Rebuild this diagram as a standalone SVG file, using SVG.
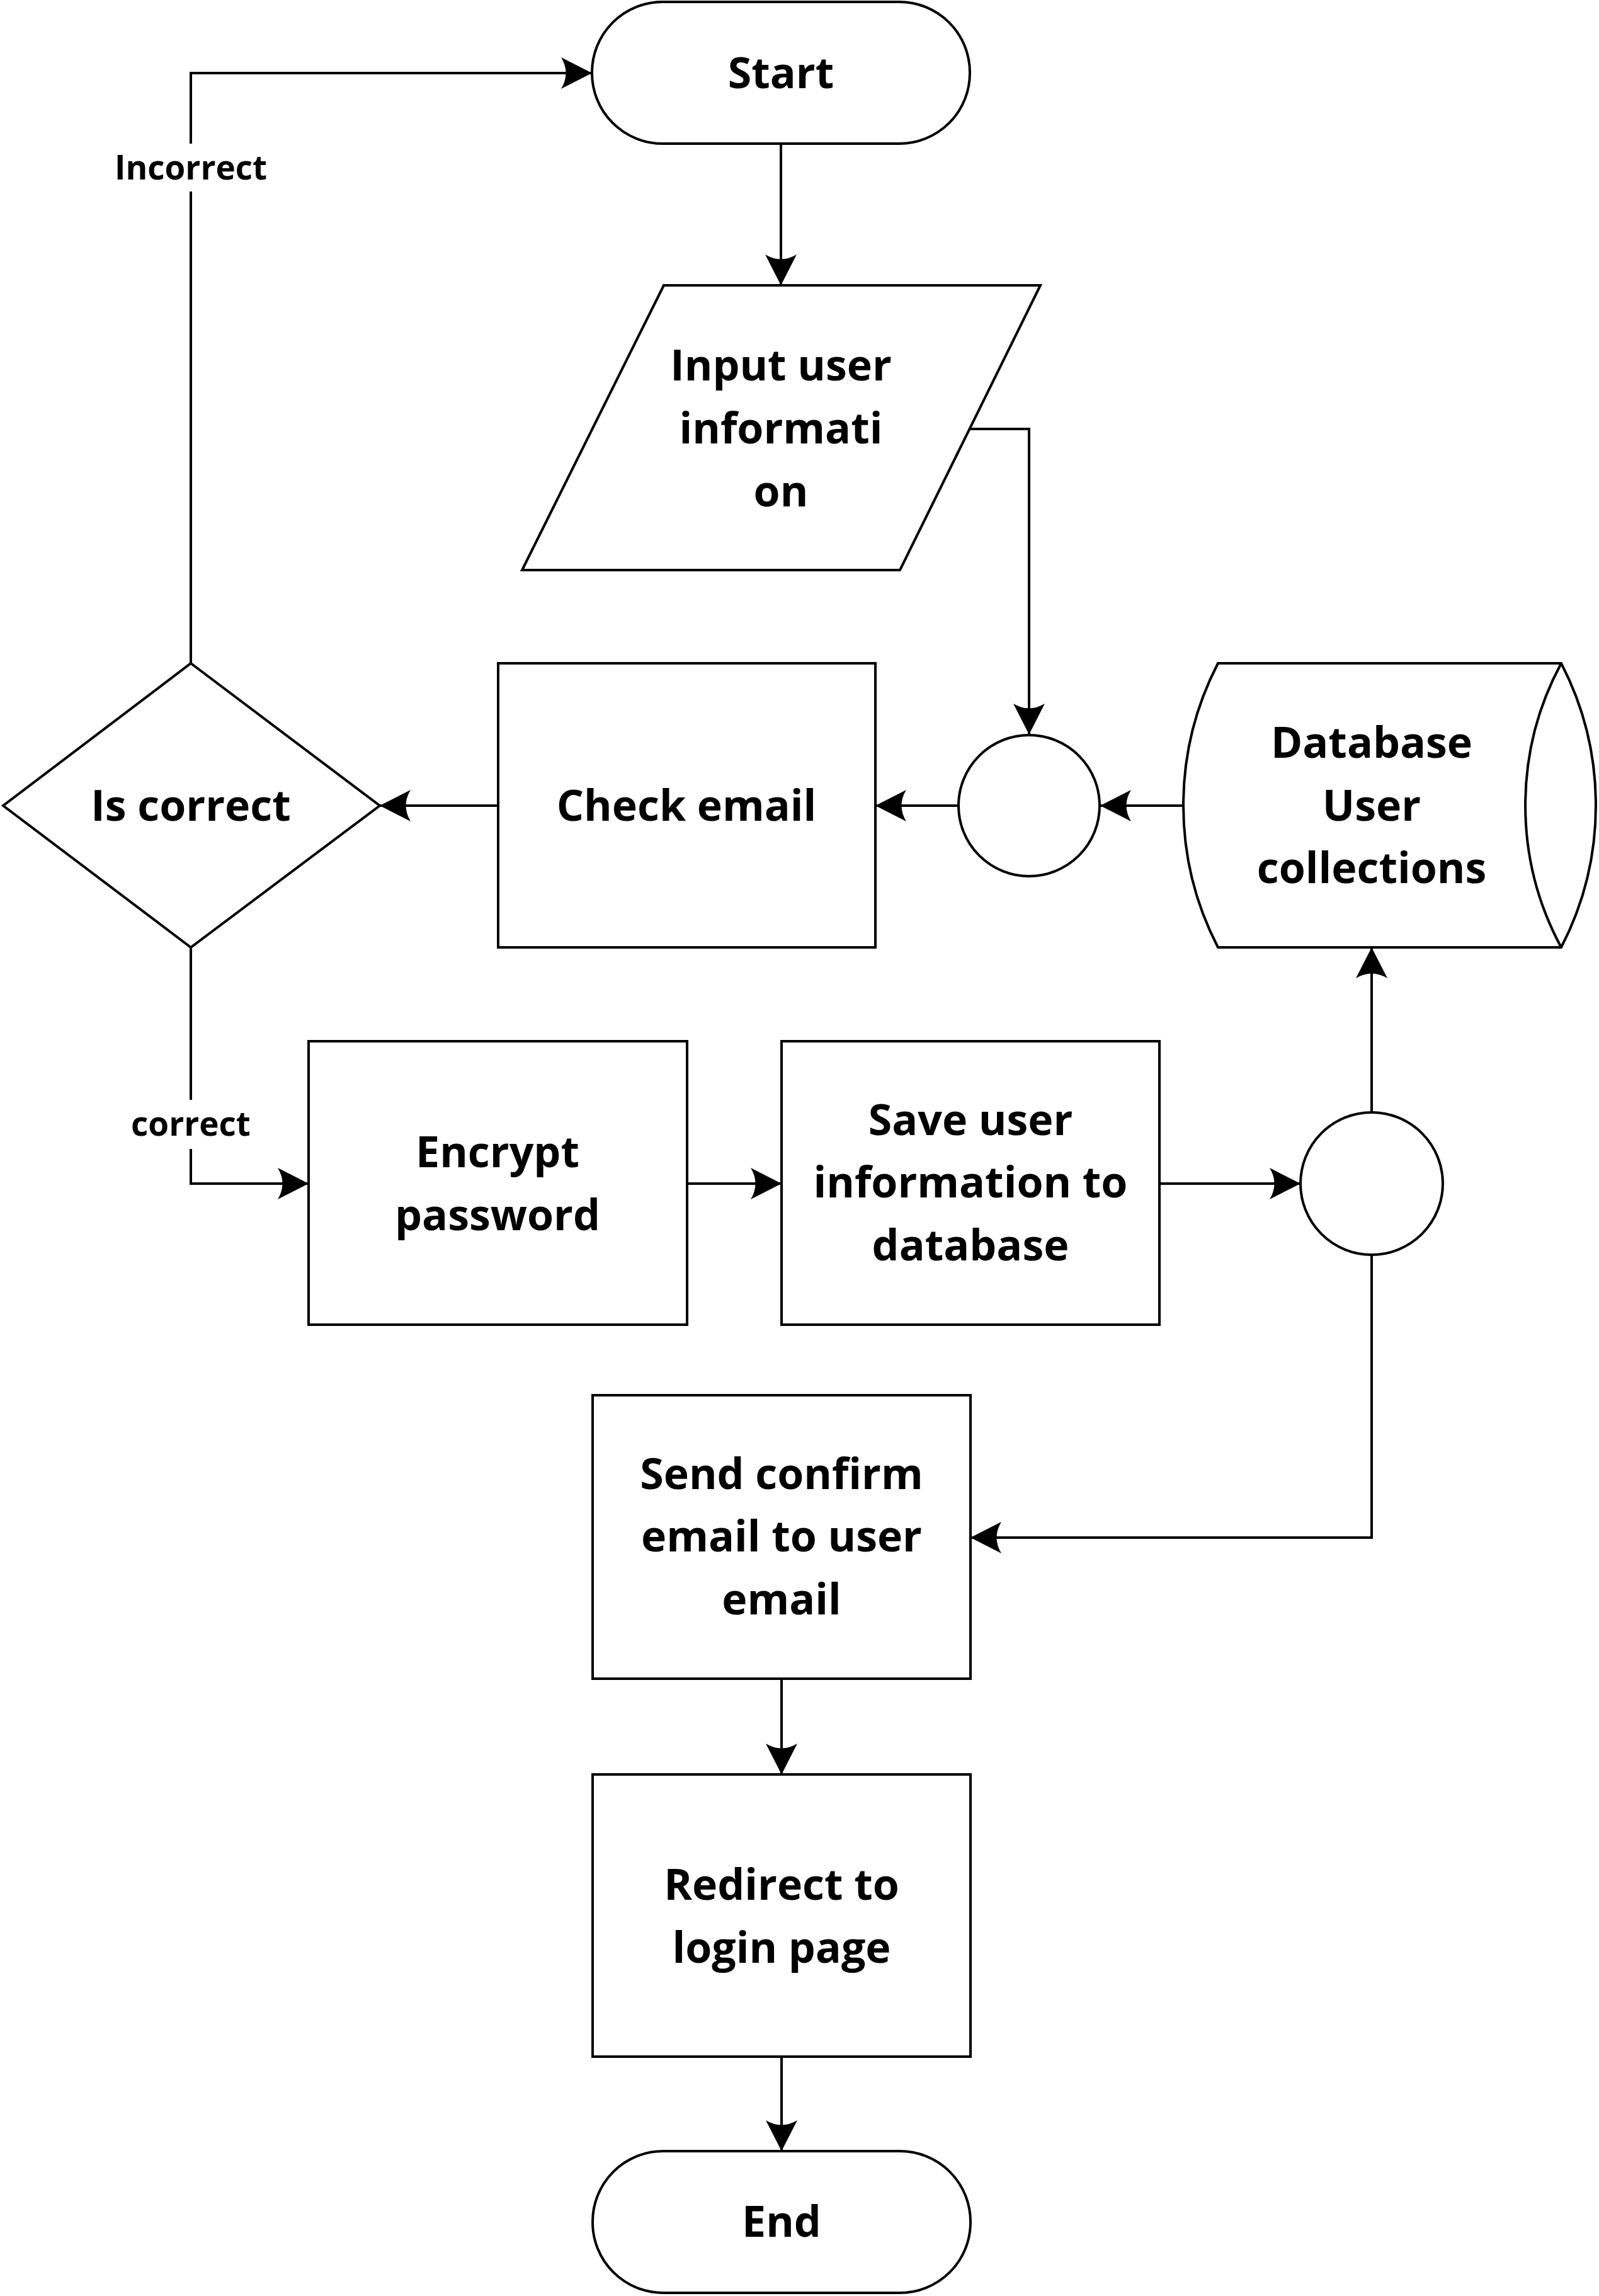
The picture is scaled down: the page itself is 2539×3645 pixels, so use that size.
<svg xmlns="http://www.w3.org/2000/svg" width="2539" height="3645" viewBox="0 0 2539 3645">
<style>
.shape{fill:#fff;stroke:#000;stroke-width:4;stroke-linejoin:miter}
.line{fill:none;stroke:#000;stroke-width:4}
.t{font-family:"Open Sans","Noto Sans","Liberation Sans",sans-serif;font-weight:700;font-size:68px;text-anchor:middle;fill:#000}
.lbl{font-family:"Open Sans","Noto Sans","Liberation Sans",sans-serif;font-weight:700;font-size:53px;text-anchor:middle;fill:#000}
</style>
<defs>
<marker id="arr" markerUnits="userSpaceOnUse" viewBox="-50 -27 52 54" markerWidth="52" markerHeight="54" refX="0" refY="0" orient="auto">
<path d="M0,0 L-49,-25 Q-34,0 -49,25 Z" fill="#000"/>
</marker>
</defs>
<rect width="2539" height="3645" fill="#fff"/>
<g id="connectors">
<path class="line" d="M1240,228 L1240,453" marker-end="url(#arr)"/>
<path class="line" d="M1540,681 L1634,681 L1634,1166" marker-end="url(#arr)"/>
<path class="line" d="M1879,1279 L1747,1279" marker-end="url(#arr)"/>
<path class="line" d="M1522,1279 L1390,1279" marker-end="url(#arr)"/>
<path class="line" d="M791,1279 L603,1279" marker-end="url(#arr)"/>
<path class="line" d="M303,1053 L303,116 L940,116" marker-end="url(#arr)"/>
<path class="line" d="M303,1504 L303,1879 L490,1879" marker-end="url(#arr)"/>
<path class="line" d="M1091,1879 L1241,1879" marker-end="url(#arr)"/>
<path class="line" d="M1841,1879 L2065,1879" marker-end="url(#arr)"/>
<path class="line" d="M2178,1766 L2178,1504" marker-end="url(#arr)"/>
<path class="line" d="M2178,1992 L2178,2441 L1541,2441" marker-end="url(#arr)"/>
<path class="line" d="M1241,2665 L1241,2817" marker-end="url(#arr)"/>
<path class="line" d="M1241,3265 L1241,3415" marker-end="url(#arr)"/>
<rect x="176" y="228" width="254" height="76" fill="#fff"/>
<text class="lbl" x="303" y="285">Incorrect</text>
<rect x="202" y="1746" width="202" height="78" fill="#fff"/>
<text class="lbl" x="303" y="1803">correct</text>
</g>
<g id="start">
<rect class="shape" x="940" y="3" width="600" height="225" rx="112" ry="112"/>
<text class="t" x="1240" y="140">Start</text>
</g>
<g id="input">
<path class="shape" d="M1054,453 L1652,453 L1429,905 L829,905 Z"/>
<text class="t" x="1240" y="604">Input user</text>
<text class="t" x="1240" y="704">informati</text>
<text class="t" x="1240" y="804">on</text>
</g>
<g id="junction1">
<circle class="shape" cx="1634" cy="1279" r="112"/>
</g>
<g id="database">
<path class="shape" d="M1934,1053 L2479,1053 A490,490 0 0 1 2479,1504 L1934,1504 A490,490 0 0 1 1934,1053 Z"/>
<path class="line" d="M2479,1053 A475,475 0 0 0 2479,1504"/>
<text class="t" x="2178" y="1203">Database</text>
<text class="t" x="2178" y="1303">User</text>
<text class="t" x="2178" y="1402">collections</text>
</g>
<g id="check-email">
<rect class="shape" x="791" y="1053" width="599" height="451"/>
<text class="t" x="1090" y="1303">Check email</text>
</g>
<g id="is-correct">
<path class="shape" d="M303,1053 L603,1279 L303,1504 L5,1279 Z"/>
<text class="t" x="303" y="1303">Is correct</text>
</g>
<g id="encrypt">
<rect class="shape" x="490" y="1653" width="601" height="450"/>
<text class="t" x="790" y="1853">Encrypt</text>
<text class="t" x="790" y="1953">password</text>
</g>
<g id="save">
<rect class="shape" x="1241" y="1653" width="600" height="450"/>
<text class="t" x="1541" y="1802">Save user</text>
<text class="t" x="1541" y="1901">information to</text>
<text class="t" x="1541" y="2001">database</text>
</g>
<g id="junction2">
<circle class="shape" cx="2178" cy="1879" r="113"/>
</g>
<g id="send">
<rect class="shape" x="941" y="2215" width="600" height="450"/>
<text class="t" x="1241" y="2364">Send confirm</text>
<text class="t" x="1241" y="2463">email to user</text>
<text class="t" x="1241" y="2563">email</text>
</g>
<g id="redirect">
<rect class="shape" x="941" y="2817" width="600" height="448"/>
<text class="t" x="1241" y="3016">Redirect to</text>
<text class="t" x="1241" y="3116">login page</text>
</g>
<g id="end">
<rect class="shape" x="941" y="3415" width="600" height="225" rx="112" ry="112"/>
<text class="t" x="1241" y="3551">End</text>
</g>
</svg>
